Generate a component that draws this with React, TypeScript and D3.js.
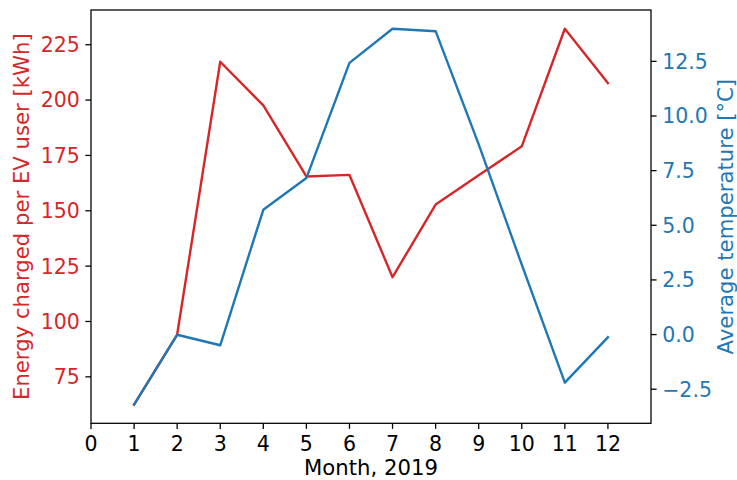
import React from "react";
import * as d3 from "d3";

const months = [1, 2, 3, 4, 5, 6, 7, 8, 9, 10, 11, 12];
const energy = [62.5, 94.1, 217.3, 197.6, 165.5, 166.2, 120.0, 152.8, 166.0, 179.1, 232.2, 207.7];
const temperature = [-3.2, -0.01, -0.49, 5.71, 7.16, 12.43, 13.99, 13.88, 8.7, 3.2, -2.2, -0.12];
const xTicks = [0, 1, 2, 3, 4, 5, 6, 7, 8, 9, 10, 11, 12];
const leftTicks = [75, 100, 125, 150, 175, 200, 225];
const rightTicks = [-2.5, 0, 2.5, 5, 7.5, 10, 12.5];
const xDomain = [0, 13];
const xLabel = "Month, 2019";
const leftLabel = "Energy charged per EV user [kWh]";
const rightLabel = "Average temperature [°C]";

const W = 737;
const H = 480;
const L = 91;
const R = 651;
const T = 10;
const B = 423.3;
const RED = "#d62728";
const BLUE = "#1f77b4";
const FONT = "DejaVu Sans";
const FS = 20.5;
const LFS = 21.2;
const TICK = 5.6;

function padded(vals: number[]): [number, number] {
  const [mn, mx] = d3.extent(vals) as [number, number];
  const p = (mx - mn) * 0.05;
  return [mn - p, mx + p];
}

const fmtMinus = (s: string) => s.replace("-", "\u2212");

export default function App() {
  const x = d3.scaleLinear().domain(xDomain).range([L, R]);
  const yL = d3.scaleLinear().domain(padded(energy)).range([B, T]);
  const yR = d3.scaleLinear().domain(padded(temperature)).range([B, T]);

  const lineL = d3
    .line<number>()
    .x((_, i) => x(months[i]))
    .y((d) => yL(d));
  const lineR = d3
    .line<number>()
    .x((_, i) => x(months[i]))
    .y((d) => yR(d));

  const cy = (T + B) / 2;
  const cx = (L + R) / 2;

  return (
    <svg
      width={W}
      height={H}
      style={{ position: "absolute", left: 0, top: 0, background: "#fff" }}
      fontFamily={FONT}
      fontSize={FS}
    >
      <rect x={0} y={0} width={W} height={H} fill="#fff" />
      <path d={lineL(energy) || ""} fill="none" stroke={RED} strokeWidth={2.4} strokeLinejoin="round" strokeLinecap="square" />
      <path d={lineR(temperature) || ""} fill="none" stroke={BLUE} strokeWidth={2.4} strokeLinejoin="round" strokeLinecap="square" />

      {/* spines */}
      <rect x={L} y={T} width={R - L} height={B - T} fill="none" stroke="#000" strokeWidth={1.28} />

      {/* x ticks */}
      {xTicks.map((t) => (
        <g key={"x" + t}>
          <line x1={x(t)} x2={x(t)} y1={B} y2={B + TICK} stroke="#000" strokeWidth={1.28} />
          <text x={x(t)} y={B + 27.7} textAnchor="middle" fill="#000">
            {t}
          </text>
        </g>
      ))}

      {/* left ticks */}
      {leftTicks.map((t) => (
        <g key={"l" + t}>
          <line x1={L - TICK} x2={L} y1={yL(t)} y2={yL(t)} stroke="#000" strokeWidth={1.28} />
          <text x={L - TICK - 5.6} y={yL(t)} dy="0.36em" textAnchor="end" fill={RED}>
            {t}
          </text>
        </g>
      ))}

      {/* right ticks */}
      {rightTicks.map((t) => (
        <g key={"r" + t}>
          <line x1={R} x2={R + TICK} y1={yR(t)} y2={yR(t)} stroke="#000" strokeWidth={1.28} />
          <text x={R + TICK + 5.6} y={yR(t)} dy="0.36em" textAnchor="start" fill={BLUE}>
            {fmtMinus(d3.format(".1f")(t))}
          </text>
        </g>
      ))}

      <text x={cx} y={475} textAnchor="middle" fill="#000" fontSize={LFS}>
        {xLabel}
      </text>
      <text transform={`translate(28.5,${cy}) rotate(-90)`} textAnchor="middle" fill={RED} fontSize={LFS}>
        {leftLabel}
      </text>
      <text transform={`translate(732.5,${cy}) rotate(-90)`} textAnchor="middle" fill={BLUE} fontSize={LFS}>
        {rightLabel}
      </text>
    </svg>
  );
}
